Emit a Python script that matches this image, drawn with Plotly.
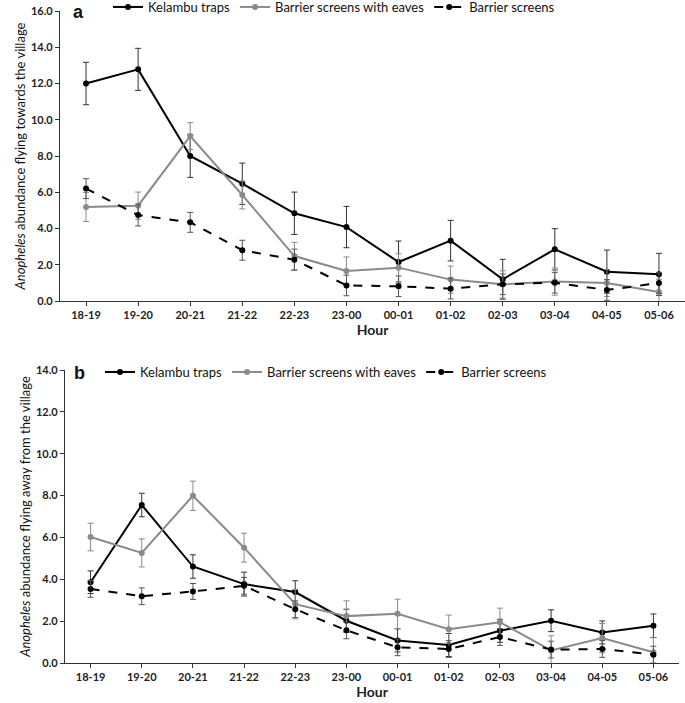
import plotly.graph_objects as go

hours = ["18-19", "19-20", "20-21", "21-22", "22-23", "23-00",
         "00-01", "01-02", "02-03", "03-04", "04-05", "05-06"]

# Panel a: flying towards the village
kel_a = [12.0, 12.78, 8.0, 6.47, 4.84, 4.08, 2.15, 3.33, 1.20, 2.85, 1.62, 1.47]
kel_a_err = [1.17, 1.16, 1.18, 1.14, 1.17, 1.14, 1.16, 1.12, 1.10, 1.14, 1.19, 1.16]
eav_a = [5.19, 5.26, 9.10, 5.85, 2.48, 1.66, 1.84, 1.18, 0.92, 1.07, 0.99, 0.50]
eav_a_err = [0.80, 0.75, 0.74, 0.77, 0.76, 0.77, 0.76, 0.75, 0.75, 0.75, 0.75, 0.70]
scr_a = [6.20, 4.74, 4.34, 2.80, 2.28, 0.86, 0.81, 0.68, 0.92, 1.01, 0.61, 0.99]
scr_a_err = [0.55, 0.60, 0.55, 0.55, 0.58, 0.57, 0.57, 0.57, 0.57, 0.57, 0.57, 0.57]

# Panel b: flying away from the village
kel_b = [3.86, 7.55, 4.61, 3.77, 3.39, 2.02, 1.08, 0.86, 1.54, 2.02, 1.46, 1.78]
kel_b_err = [0.54, 0.56, 0.56, 0.57, 0.54, 0.55, 0.55, 0.55, 0.55, 0.52, 0.55, 0.56]
eav_b = [6.02, 5.26, 7.99, 5.51, 2.81, 2.24, 2.35, 1.61, 1.95, 0.60, 1.19, 0.51]
eav_b_err = [0.66, 0.67, 0.70, 0.69, 0.70, 0.73, 0.70, 0.68, 0.67, 0.70, 0.70, 0.70]
scr_b = [3.54, 3.19, 3.42, 3.69, 2.57, 1.56, 0.75, 0.67, 1.24, 0.64, 0.67, 0.40]
scr_b_err = [0.40, 0.40, 0.38, 0.40, 0.40, 0.40, 0.40, 0.40, 0.40, 0.40, 0.40, 0.40]

names = ["Kelambu traps", "Barrier screens with eaves", "Barrier screens"]
BLACK = "#000000"
GRAY = "#8a8a8a"
FONT = "Lato"

fig = go.Figure()


def add_panel(vals, errs, xa, ya, legend):
    styles = [
        dict(color=BLACK, dash="solid", ecolor="#333333"),
        dict(color=GRAY, dash="solid", ecolor=GRAY),
        dict(color=BLACK, dash="dash", ecolor="#555555"),
    ]
    for name, v, e, s in zip(names, vals, errs, styles):
        fig.add_trace(go.Scatter(
            x=hours, y=v, name=name, mode="lines+markers",
            line=dict(color=s["color"], width=2, dash=s["dash"]),
            marker=dict(color=s["color"], size=6, symbol="circle"),
            error_y=dict(type="data", array=e, visible=True,
                         color=s["ecolor"], thickness=1, width=3),
            xaxis=xa, yaxis=ya, legend=legend,
        ))


add_panel([kel_a, eav_a, scr_a], [kel_a_err, eav_a_err, scr_a_err], "x", "y", "legend")
add_panel([kel_b, eav_b, scr_b], [kel_b_err, eav_b_err, scr_b_err], "x2", "y2", "legend2")

W, H = 685, 703


def px_x(v):
    return v / W


def px_y(v):
    return 1 - v / H


tickfont = dict(family=FONT, size=11, color="#222222", weight="bold")
xcommon = dict(type="category", range=[-0.5, 11.5], showline=True,
               linecolor="#333333", linewidth=1.3, ticks="outside",
               ticklen=4, tickcolor="#333333", showgrid=False,
               zeroline=False, tickfont=tickfont, automargin=False,
               title=dict(text="Hour", font=dict(family=FONT, size=14,
                                                 color="#222222", weight="bold"),
                          standoff=4))
ycommon = dict(showline=True, linecolor="#333333", linewidth=1.3,
               ticks="outside", ticklen=4, tickcolor="#333333",
               showgrid=False, zeroline=False, tickformat=".1f",
               dtick=2, tickfont=tickfont, automargin=False)

fig.update_layout(
    width=W, height=H,
    margin=dict(l=0, r=0, t=0, b=0, autoexpand=False),
    paper_bgcolor="white", plot_bgcolor="white",
    font=dict(family=FONT, color="#222222"),
    xaxis=dict(domain=[px_x(60), px_x(685)], anchor="y", **xcommon),
    yaxis=dict(domain=[px_y(301), px_y(11)], anchor="x", range=[0, 16],
               title=dict(text="<i>Anopheles</i> abundance flying towards the village",
                          font=dict(family=FONT, size=13, color="#111111"),
                          standoff=2),
               **ycommon),
    xaxis2=dict(domain=[px_x(65), px_x(679)], anchor="y2", **xcommon),
    yaxis2=dict(domain=[px_y(663), px_y(370)], anchor="x2", range=[0, 14],
                title=dict(text="<i>Anopheles</i> abundance flying away from the village",
                           font=dict(family=FONT, size=13, color="#111111"),
                           standoff=2),
                **ycommon),
    legend=dict(orientation="h", x=px_x(108), y=px_y(7), xanchor="left",
                yanchor="middle", bgcolor="rgba(0,0,0,0)",
                font=dict(family=FONT, size=13, color="#111111"),
                itemwidth=30, tracegroupgap=0),
    legend2=dict(orientation="h", x=px_x(100), y=px_y(372), xanchor="left",
                 yanchor="middle", bgcolor="rgba(0,0,0,0)",
                 font=dict(family=FONT, size=13, color="#111111"),
                 itemwidth=30, tracegroupgap=0),
    annotations=[
        dict(text="a", x=px_x(71), y=px_y(12), xref="paper", yref="paper",
             xanchor="left", yanchor="middle", showarrow=False,
             font=dict(family="Liberation Sans", size=18, color="#111111",
                       weight="bold")),
        dict(text="b", x=px_x(72), y=px_y(373), xref="paper", yref="paper",
             xanchor="left", yanchor="middle", showarrow=False,
             font=dict(family="Liberation Sans", size=18, color="#111111",
                       weight="bold")),
    ],
)

# remove the default 8px page margin so the figure fills the window
fig.write_html("out.html",
               config={"displayModeBar": False},
               post_script="document.body.style.margin='0';"
                           "document.body.style.overflow='hidden';")
